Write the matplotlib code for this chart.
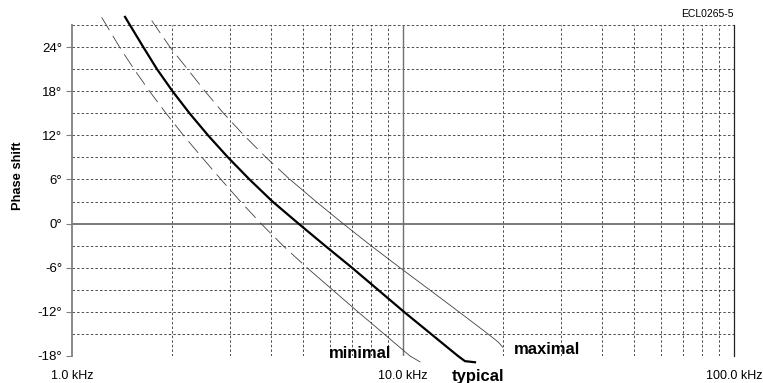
import matplotlib
matplotlib.use("Agg")
import matplotlib.pyplot as plt
import numpy as np

plt.rcParams['font.family'] = ['Liberation Sans', 'DejaVu Sans']

# ---- data (frequency in kHz, phase shift in degrees) ----
typ_f = [1.446, 1.642, 1.806, 2.012, 2.265, 2.576, 2.960, 3.438, 4.035, 4.834,
         5.812, 7.015, 8.405, 10.07, 12.15, 14.66, 15.39, 16.5]
typ_p = [28.1, 24, 21, 18, 15, 12, 9, 6, 3, 0, -3, -6, -9, -12, -15, -18, -18.7, -18.85]

min_f = [1.229, 1.392, 1.539, 1.715, 1.923, 2.172, 2.470, 2.819, 3.229, 3.724,
         4.340, 5.129, 6.124, 7.311, 8.763, 10.50, 11.26]
min_p = [28.05, 24, 21, 18, 15, 12, 9, 6, 3, 0, -3, -6, -9, -12, -15, -18, -18.8]

max_f = [1.741, 1.977, 2.234, 2.522, 2.869, 3.308, 3.856, 4.556, 5.460, 6.589,
         8.004, 9.793, 12.03, 14.76, 18.06, 19.4, 20.0]
max_p = [27.6, 24, 21, 18, 15, 12, 9, 6, 3, 0, -3, -6, -9, -12, -15, -16.1, -16.8]

y_ticks = [-18, -12, -6, 0, 6, 12, 18, 24]
y_ticklabels = ["-18°", "-12°", "-6°", "0°", "6°", "12°", "18°", "24°"]
x_ticks = [1, 10, 100]
x_ticklabels = ["1.0 kHz", "10.0 kHz", "100.0 kHz"]

W, H = 763, 383
fig = plt.figure(figsize=(W / 100, H / 100), dpi=100)
L, R, B, T = 72, 734, 356, 25
ax = fig.add_axes([L / W, 1 - B / H, (R - L) / W, (B - T) / H])
ax.set_xscale('log')
ax.set_xlim(1, 100)
ax.set_ylim(-18, 27)

# grid
grid_kw = dict(color='#333333', lw=0.6, ls=(0, (3, 2.5)), zorder=1)
for y in np.arange(-18, 28, 3):
    if y != 0:
        ax.axhline(y, **grid_kw)
for dec in (1, 10):
    for m in range(2, 10):
        ax.axvline(dec * m, **grid_kw)
ax.axhline(0, color='#707070', lw=1.3, zorder=2)
ax.axvline(10, color='#707070', lw=1.0, zorder=2)

for s in ('top', 'bottom'):
    ax.spines[s].set_visible(False)
ax.spines['left'].set_color('#808080')
ax.spines['left'].set_linewidth(1.3)
ax.spines['right'].set_color('#222222')
ax.spines['right'].set_linewidth(0.9)

ax.set_yticks(y_ticks)
ax.set_yticklabels(y_ticklabels, fontsize=9.5)
ax.tick_params(axis='y', length=4, width=0.8, color='#808080', pad=3)
ax.set_xticks(x_ticks)
ax.set_xticklabels(x_ticklabels, fontsize=9)
ax.tick_params(axis='x', length=0, pad=10)
ax.xaxis.set_minor_locator(matplotlib.ticker.NullLocator())

# curves
ax.plot(typ_f, typ_p, color='black', lw=1.6, clip_on=False, zorder=5)

split_max = 6
split_min = -6
mf, mp = np.array(max_f), np.array(max_p)
nf, np_ = np.array(min_f), np.array(min_p)
thin = dict(color='#404040', lw=0.6, clip_on=False, zorder=4)
ax.plot(mf[mp >= split_max], mp[mp >= split_max], ls=(0, (18, 8)), **thin)
ax.plot(mf[mp <= split_max], mp[mp <= split_max], ls='-', **thin)
ax.plot(nf[np_ >= split_min], np_[np_ >= split_min], ls=(0, (18, 8)), **thin)
ax.plot(nf[np_ <= split_min], np_[np_ <= split_min], ls='-', **thin)

# labels
fig.text(18 / W, 1 - 176 / H, "Phase shift", rotation=90, ha='center', va='center',
         fontsize=9.3, fontweight='bold')
fig.text(734 / W, 1 - 14 / H, "ECL0265-5", ha='right', va='center', fontsize=7.5)
fig.text(360 / W, 1 - 354 / H, "minimal", ha='center', va='center', fontsize=12, fontweight='bold')
fig.text(547 / W, 1 - 349 / H, "maximal", ha='center', va='center', fontsize=12, fontweight='bold')
fig.text(478 / W, 1 - 376 / H, "typical", ha='center', va='center', fontsize=12, fontweight='bold')

fig.savefig("out.png", dpi=100)
